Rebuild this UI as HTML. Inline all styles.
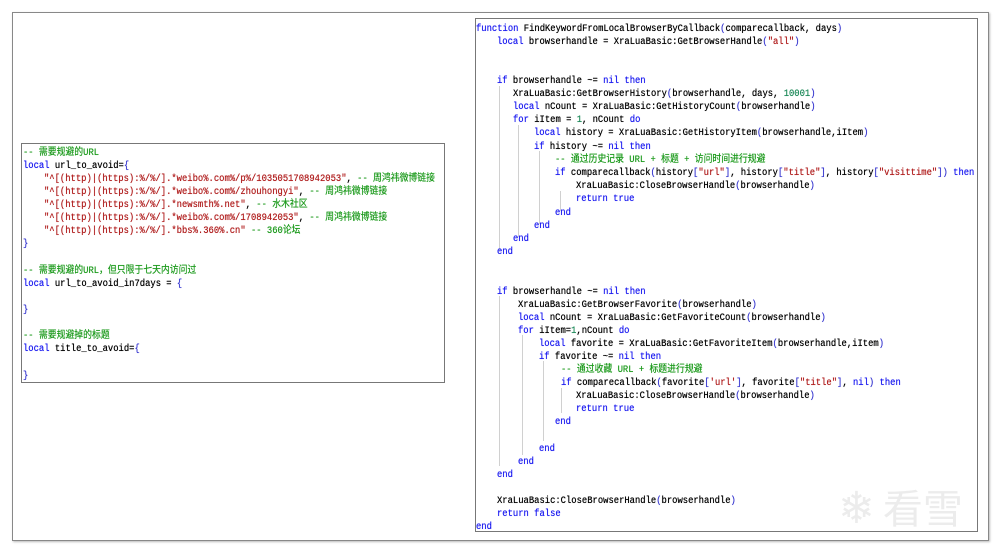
<!DOCTYPE html>
<html><head><meta charset="utf-8"><style>
body{margin:0;width:1000px;height:552px;background:#fff;position:relative;overflow:hidden;font-family:"Liberation Mono","Noto Sans CJK SC",monospace;font-size:8.85px;color:#000}
.frame{position:absolute;left:12px;top:12px;width:975px;height:527px;border:1px solid #888;box-shadow:1px 1px 2px #bbb}
.box{position:absolute;border:1px solid #777;background:#fff}
.l{position:absolute;margin-top:1.5px;white-space:pre;line-height:11px;transform:scaleY(1.15);transform-origin:left center;text-shadow:0 0 0.4px currentColor}
.k{color:#1c1cf0}.c{color:#1c9a1c}.s{color:#b01e1e}.n{color:#1e8a5a}.p{color:#3a3ad0}
.g{position:absolute;width:1px;background:#d0d0d0}
</style></head><body>
<div class="frame"></div>
<div class="box" style="left:21px;top:143px;width:422px;height:238px"></div>
<div class="box" style="left:475px;top:18px;width:501px;height:512px"></div>

<div class="l c" style="left:23px;top:146px">-- 需要规避的URL</div>
<div class="l" style="left:23px;top:159px"><span class="k">local</span> url_to_avoid=<span class="p">{</span></div>
<div class="l s" style="left:44px;top:172px">"^[(http)|(https):%/%/].*weibo%.com%/p%/1035051708942053"<span style="color:#000">, </span><span class="c">-- 周鸿祎微博链接</span></div>
<div class="l s" style="left:44px;top:185px">"^[(http)|(https):%/%/].*weibo%.com%/zhouhongyi"<span style="color:#000">, </span><span class="c">-- 周鸿祎微博链接</span></div>
<div class="l s" style="left:44px;top:198px">"^[(http)|(https):%/%/].*newsmth%.net"<span style="color:#000">, </span><span class="c">-- 水木社区</span></div>
<div class="l s" style="left:44px;top:211px">"^[(http)|(https):%/%/].*weibo%.com%/1708942053"<span style="color:#000">, </span><span class="c">-- 周鸿祎微博链接</span></div>
<div class="l s" style="left:44px;top:224px">"^[(http)|(https):%/%/].*bbs%.360%.cn" <span class="c">-- 360论坛</span></div>
<div class="l p" style="left:23px;top:237px">}</div>
<div class="l c" style="left:23px;top:264px">-- 需要规避的URL，但只限于七天内访问过</div>
<div class="l" style="left:23px;top:277px"><span class="k">local</span> url_to_avoid_in7days = <span class="p">{</span></div>
<div class="l p" style="left:23px;top:303px">}</div>
<div class="l c" style="left:23px;top:329px">-- 需要规避掉的标题</div>
<div class="l" style="left:23px;top:342px"><span class="k">local</span> title_to_avoid=<span class="p">{</span></div>
<div class="l p" style="left:23px;top:369px">}</div>

<div class="g" style="left:499px;top:86px;height:165px"></div>
<div class="g" style="left:518px;top:125px;height:112px"></div>
<div class="g" style="left:539px;top:151px;height:73px"></div>
<div class="g" style="left:560px;top:191px;height:20px"></div>
<div class="g" style="left:499px;top:296px;height:170px"></div>
<div class="g" style="left:522px;top:335px;height:120px"></div>
<div class="g" style="left:543px;top:361px;height:80px"></div>
<div class="g" style="left:561px;top:388px;height:25px"></div>

<div class="l" style="left:476px;top:22px"><span class="k">function</span> FindKeywordFromLocalBrowserByCallback<span class="p">(</span>comparecallback, days<span class="p">)</span></div>
<div class="l" style="left:497px;top:35px"><span class="k">local</span> browserhandle = XraLuaBasic:GetBrowserHandle<span class="p">(</span><span class="s">"all"</span><span class="p">)</span></div>
<div class="l" style="left:497px;top:74px"><span class="k">if</span> browserhandle ~= <span class="k">nil then</span></div>
<div class="l" style="left:513px;top:87px">XraLuaBasic:GetBrowserHistory<span class="p">(</span>browserhandle, days, <span class="n">10001</span><span class="p">)</span></div>
<div class="l" style="left:513px;top:100px"><span class="k">local</span> nCount = XraLuaBasic:GetHistoryCount<span class="p">(</span>browserhandle<span class="p">)</span></div>
<div class="l" style="left:513px;top:113px"><span class="k">for</span> iItem = <span class="n">1</span>, nCount <span class="k">do</span></div>
<div class="l" style="left:534px;top:126px"><span class="k">local</span> history = XraLuaBasic:GetHistoryItem<span class="p">(</span>browserhandle,iItem<span class="p">)</span></div>
<div class="l" style="left:534px;top:140px"><span class="k">if</span> history ~= <span class="k">nil then</span></div>
<div class="l c" style="left:555px;top:153px">-- 通过历史记录 URL + 标题 + 访问时间进行规避</div>
<div class="l" style="left:555px;top:166px"><span class="k">if</span> comparecallback<span class="p">(</span>history<span class="p">[</span><span class="s">"url"</span><span class="p">]</span>, history<span class="p">[</span><span class="s">"title"</span><span class="p">]</span>, history<span class="p">[</span><span class="s">"visittime"</span><span class="p">])</span> <span class="k">then</span></div>
<div class="l" style="left:576px;top:179px">XraLuaBasic:CloseBrowserHandle<span class="p">(</span>browserhandle<span class="p">)</span></div>
<div class="l k" style="left:576px;top:192px">return true</div>
<div class="l k" style="left:555px;top:206px">end</div>
<div class="l k" style="left:534px;top:219px">end</div>
<div class="l k" style="left:513px;top:232px">end</div>
<div class="l k" style="left:497px;top:245px">end</div>

<div class="l" style="left:497px;top:285px"><span class="k">if</span> browserhandle ~= <span class="k">nil then</span></div>
<div class="l" style="left:518px;top:298px">XraLuaBasic:GetBrowserFavorite<span class="p">(</span>browserhandle<span class="p">)</span></div>
<div class="l" style="left:518px;top:311px"><span class="k">local</span> nCount = XraLuaBasic:GetFavoriteCount<span class="p">(</span>browserhandle<span class="p">)</span></div>
<div class="l" style="left:518px;top:324px"><span class="k">for</span> iItem=<span class="n">1</span>,nCount <span class="k">do</span></div>
<div class="l" style="left:539px;top:337px"><span class="k">local</span> favorite = XraLuaBasic:GetFavoriteItem<span class="p">(</span>browserhandle,iItem<span class="p">)</span></div>
<div class="l" style="left:539px;top:350px"><span class="k">if</span> favorite ~= <span class="k">nil then</span></div>
<div class="l c" style="left:561px;top:363px">-- 通过收藏 URL + 标题进行规避</div>
<div class="l" style="left:561px;top:376px"><span class="k">if</span> comparecallback<span class="p">(</span>favorite<span class="p">[</span><span class="s">'url'</span><span class="p">]</span>, favorite<span class="p">[</span><span class="s">"title"</span><span class="p">]</span>, <span class="k">nil</span><span class="p">)</span> <span class="k">then</span></div>
<div class="l" style="left:576px;top:389px">XraLuaBasic:CloseBrowserHandle<span class="p">(</span>browserhandle<span class="p">)</span></div>
<div class="l k" style="left:576px;top:402px">return true</div>
<div class="l k" style="left:555px;top:415px">end</div>
<div class="l k" style="left:539px;top:442px">end</div>
<div class="l k" style="left:518px;top:455px">end</div>
<div class="l k" style="left:497px;top:468px">end</div>
<div class="l" style="left:497px;top:494px">XraLuaBasic:CloseBrowserHandle<span class="p">(</span>browserhandle<span class="p">)</span></div>
<div class="l k" style="left:497px;top:507px">return false</div>
<div class="l k" style="left:476px;top:520px">end</div>

<div style="position:absolute;left:838px;top:474px;font-family:'Noto Sans CJK SC',sans-serif;font-size:44px;color:#ececec;line-height:60px;white-space:nowrap">❄<span style="font-size:40px;margin-left:8px">看雪</span></div>
</body></html>
